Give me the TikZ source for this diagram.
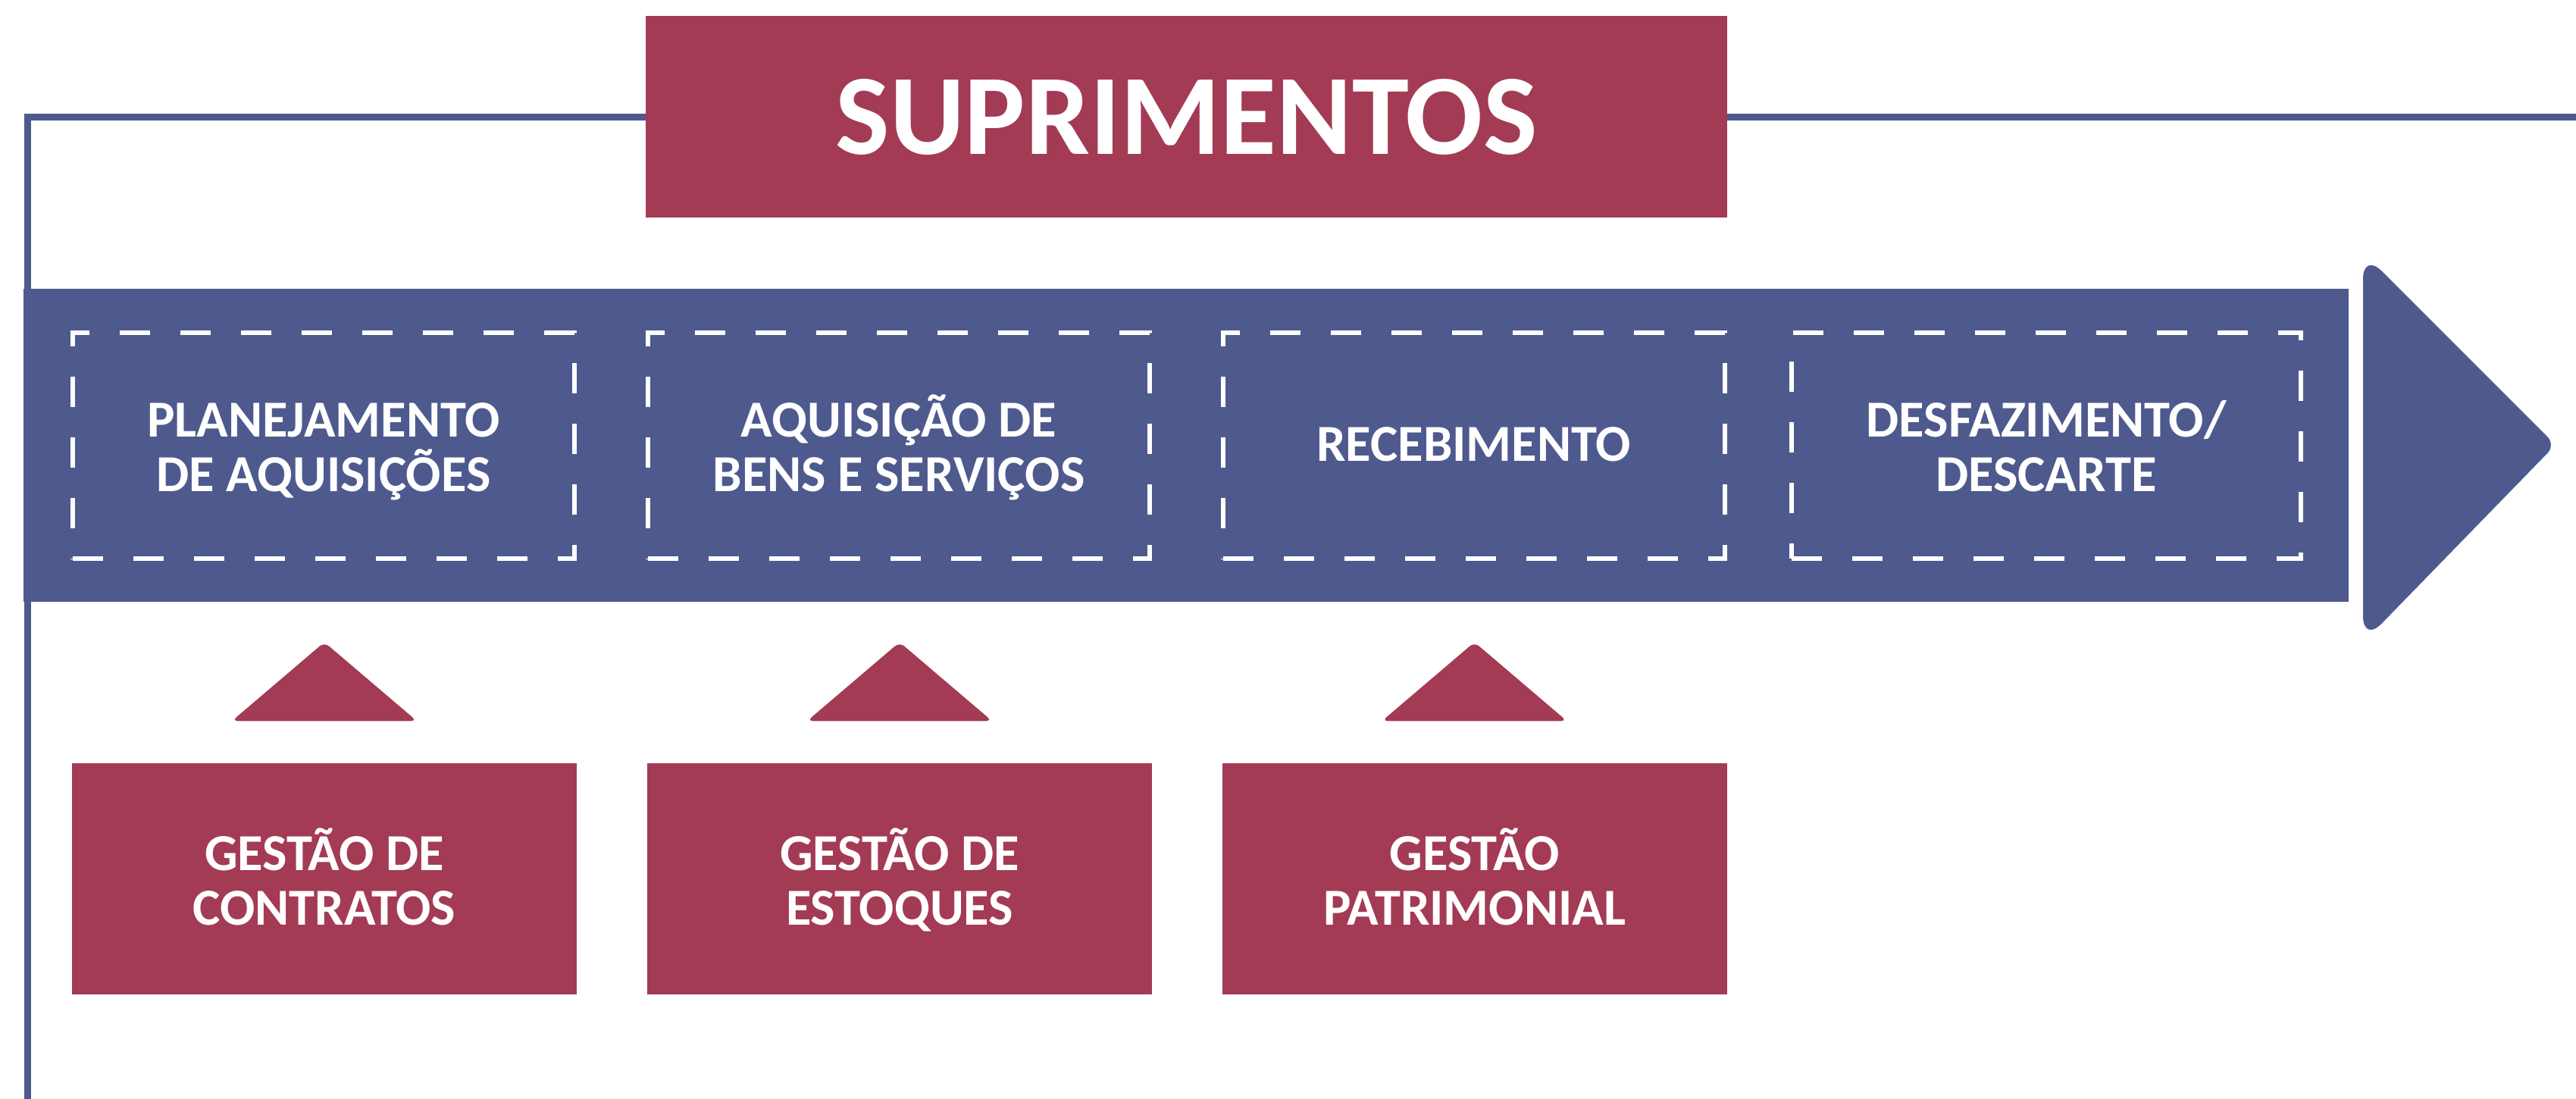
\documentclass[tikz,border=0pt]{standalone}
\usepackage{fontspec}
\setmainfont{Carlito}
\usepackage{xcolor}
\definecolor{supblue}{RGB}{78,90,142}
\definecolor{supred}{RGB}{163,59,85}
\usetikzlibrary{calc}

\tikzset{
  titlebox/.style={fill=supred, text=white, inner sep=0pt, minimum width=14.27cm, minimum height=2.66cm, font=\fontsize{43}{50}\selectfont\bfseries},
  stagebox/.style={draw=white, line width=0.06cm, dash pattern=on 0.4cm off 0.4cm, text=white, align=center, inner sep=0pt, minimum width=6.62cm, minimum height=2.98cm, text height=1.32cm, text depth=0.1cm, font=\fontsize{19.5}{20.5}\selectfont\bfseries},
  gestbox/.style={fill=supred, text=white, align=center, inner sep=0pt, minimum width=6.66cm, minimum height=3.05cm, text height=1.32cm, text depth=0.1cm, font=\fontsize{19.5}{20.5}\selectfont\bfseries},
  uptri/.style={fill=supred, rounded corners=0.08cm}
}

\begin{document}
\begin{tikzpicture}
  \useasboundingbox (0,0) rectangle (33.99,14.5);

  % Frame line
  \draw[supblue, line width=0.09cm] (0.36,-0.2) -- (0.36,12.955) -- (34.2,12.955);

  % --- Title ---
  \node[titlebox] (title) at (15.655,12.955) {SUPRIMENTOS};

  % --- Process band with arrow head ---
  \fill[supblue] (0.31,6.56) rectangle (30.99,10.69);
  \fill[supblue, rounded corners=0.35cm] (31.18,11.17) [rounded corners=0.15cm] -- (33.72,8.63) [rounded corners=0.35cm] -- (31.18,6.02) -- cycle;

  % Stages
  \node[stagebox] (plan) at (4.27,8.62) {PLANEJAMENTO\\DE AQUISIÇÕES};
  \node[stagebox] (aquis) at (11.86,8.62) {AQUISIÇÃO DE\\BENS E SERVIÇOS};
  \node[stagebox, text height=0.515cm] (receb) at (19.445,8.62) {RECEBIMENTO};
  \node[stagebox, minimum width=6.72cm] (desc) at (27.0,8.62) {DESFAZIMENTO/\\DESCARTE};

  % --- Management boxes ---
  \node[gestbox] (contr) at (4.28,2.905) {GESTÃO DE\\CONTRATOS};
  \node[gestbox] (estoq) at (11.87,2.905) {GESTÃO DE\\ESTOQUES};
  \node[gestbox] (patri) at (19.455,2.905) {GESTÃO\\PATRIMONIAL};

  % Triangles
  \foreach \g in {contr,estoq,patri}
    \fill[uptri] ($(\g.north)+(-1.22,0.55)$) -- ($(\g.north)+(0,1.59)$) -- ($(\g.north)+(1.22,0.55)$) -- cycle;
\end{tikzpicture}
\end{document}
